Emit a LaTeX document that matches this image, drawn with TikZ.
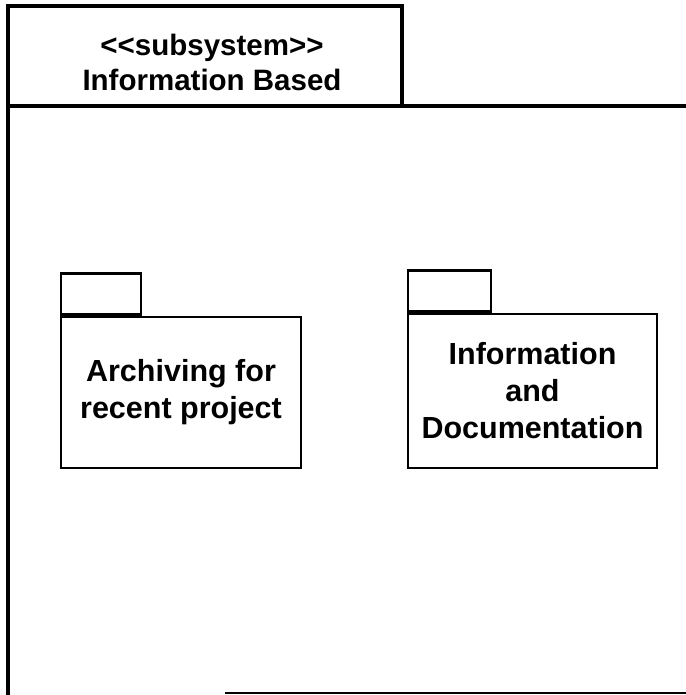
\documentclass[tikz,border=0pt]{standalone}
\usepackage{fontspec}
\setmainfont{Liberation Sans}
\begin{document}
\begin{tikzpicture}[x=1pt,y=-1pt,
  frameline/.style={line width=4pt,line cap=rect},
  pkgbody/.style={draw,line width=2.8pt,minimum width=240pt,minimum height=151pt,inner sep=0pt,align=center,
    font=\bfseries\fontsize{30.5}{37}\selectfont},
  pkgtab/.style={draw,line width=2.8pt,minimum width=82pt,minimum height=41pt,inner sep=0pt,anchor=south west},
  titletext/.style={align=center,font=\bfseries\fontsize{29.5}{35}\selectfont}]
\useasboundingbox (0,0) rectangle (685,695);
% subsystem frame
\coordinate (fTL) at (8,6);
\coordinate (fTR) at (402,6);
\coordinate (fBR) at (402,106);
\coordinate (fL) at (8,106);
\coordinate (fR) at (690,106);
\coordinate (fBot) at (8,700);
\coordinate (bL) at (225,693);
\coordinate (bR) at (690,693);
\draw[frameline] (fBot) -- (fTL) -- (fTR) -- (fBR);
\draw[frameline] (fL) -- (fR);
\draw[line width=2.5pt] (bL) -- (bR);
\node[titletext] (title) at (212,62) {<{}<subsystem>{}>\\Information Based};
% packages
\node[pkgbody,minimum width=240pt,minimum height=151pt] (p1) at (181,392.5) {Archiving for\\recent project};
\node[pkgtab,minimum width=80pt,minimum height=41pt] (p1tab) at (p1.north west) {};
\node[pkgbody,minimum width=249pt,minimum height=154pt] (p2) at (532.5,391) {Information\\and\\Documentation};
\node[pkgtab,minimum width=83pt,minimum height=41pt] (p2tab) at (p2.north west) {};
\end{tikzpicture}
\end{document}
